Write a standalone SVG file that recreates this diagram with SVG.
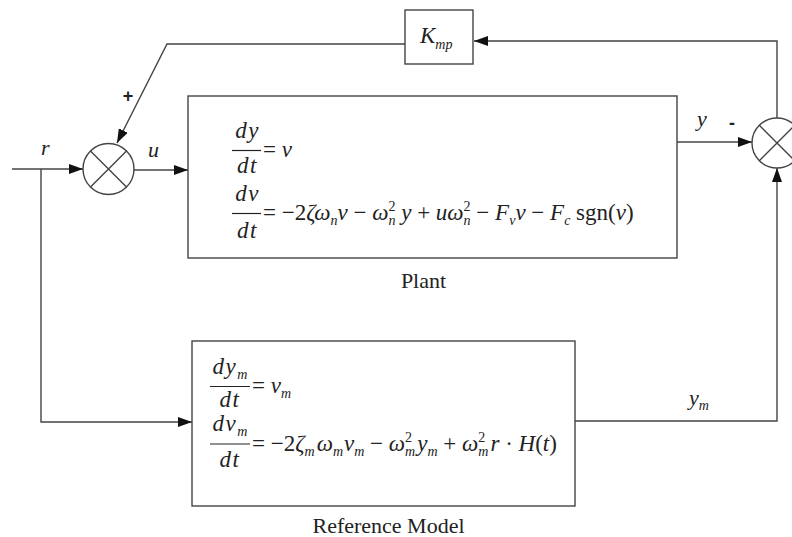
<svg xmlns="http://www.w3.org/2000/svg" width="792" height="537" viewBox="0 0 792 537">
<style>
.ln{stroke:#444;stroke-width:1.4;fill:none}
.bx{stroke:#444;stroke-width:1.4;fill:#fff}
.t{font-family:"Liberation Serif","Times New Roman",serif;font-size:22px;fill:#222}
.e{font-size:23px}
.f{font-size:23px;letter-spacing:1.5px}
.i{font-style:italic}
.s{font-size:14px;letter-spacing:0}
.sg{font-family:"Liberation Sans",Arial,sans-serif;font-weight:bold;font-size:18px;fill:#222}
.bar{stroke:#222;stroke-width:1.2}
</style>
<defs>
<marker id="ah" markerUnits="userSpaceOnUse" markerWidth="15" markerHeight="11" refX="14" refY="5" orient="auto">
<path d="M0,0 L14,5 L0,10 z" fill="#111"/>
</marker>
</defs>
<rect width="792" height="537" fill="#fff"/>

<g id="connectors">
<path class="ln" d="M12,169 L83,169" marker-end="url(#ah)"/>
<path class="ln" d="M41,169 L41,422 L192,422" marker-end="url(#ah)"/>
<path class="ln" d="M134,170 L188,170" marker-end="url(#ah)"/>
<path class="ln" d="M405,44 L167,44 L117,143" marker-end="url(#ah)"/>
<path class="ln" d="M677,142 L752,142" marker-end="url(#ah)"/>
<path class="ln" d="M777,118 L777,41 L474,41" marker-end="url(#ah)"/>
<path class="ln" d="M575,421 L777,421 L777,168" marker-end="url(#ah)"/>
</g>

<g id="sum1">
<circle class="bx" cx="108.5" cy="169" r="25.5"/>
<path class="ln" d="M90.5,151 L126.5,187 M126.5,151 L90.5,187"/>
</g>

<g id="sum2">
<circle class="bx" cx="777" cy="143" r="25"/>
<path class="ln" d="M759.3,125.3 L794.7,160.7 M794.7,125.3 L759.3,160.7"/>
</g>

<g id="kmp">
<rect class="bx" x="405" y="10" width="68" height="54"/>
<text class="t e i" x="420" y="43">K<tspan class="s" dy="6">mp</tspan></text>
</g>

<g id="plant">
<rect class="bx" x="188" y="96" width="489" height="162"/>
<text class="t f i" x="247.5" y="138" text-anchor="middle">dy</text>
<line class="bar" x1="232" y1="150.5" x2="261" y2="150.5"/>
<text class="t f i" x="247.5" y="173" text-anchor="middle">dt</text>
<text class="t e" x="263" y="157">= <tspan class="i">v</tspan></text>
<text class="t f i" x="247.5" y="201" text-anchor="middle">dv</text>
<line class="bar" x1="232" y1="213.5" x2="261" y2="213.5"/>
<text class="t f i" x="247.5" y="238" text-anchor="middle">dt</text>
<text class="t e" x="263" y="220">= −2<tspan class="i">ζω</tspan><tspan class="s i" dy="5">n</tspan><tspan class="i" dy="-5">v</tspan> − <tspan class="i">ω</tspan><tspan class="s" dy="-9">2</tspan><tspan class="s i" dx="-7" dy="14">n</tspan><tspan class="i" dy="-5"> y</tspan> + <tspan class="i">uω</tspan><tspan class="s" dy="-9">2</tspan><tspan class="s i" dx="-7" dy="14">n</tspan><tspan dy="-5"> − </tspan><tspan class="i">F</tspan><tspan class="s i" dy="5">v</tspan><tspan class="i" dy="-5">v</tspan> − <tspan class="i">F</tspan><tspan class="s i" dy="5">c</tspan><tspan dy="-5"> sgn(</tspan><tspan class="i">v</tspan>)</text>
<text class="t" x="423.5" y="288" text-anchor="middle">Plant</text>
</g>

<g id="reference-model">
<rect class="bx" x="192" y="341" width="383" height="165"/>
<text class="t f i" x="230" y="374" text-anchor="middle">dy<tspan class="s" dy="5">m</tspan></text>
<line class="bar" x1="210" y1="386.5" x2="250" y2="386.5"/>
<text class="t f i" x="230" y="407" text-anchor="middle">dt</text>
<text class="t e" x="252" y="393">= <tspan class="i">v</tspan><tspan class="s i" dy="5">m</tspan></text>
<text class="t f i" x="230" y="431" text-anchor="middle">dv<tspan class="s" dy="5">m</tspan></text>
<line class="bar" x1="210" y1="444" x2="250" y2="444"/>
<text class="t f i" x="230" y="467" text-anchor="middle">dt</text>
<text class="t e" x="252" y="450.5">= −2<tspan class="i">ζ</tspan><tspan class="s i" dy="5">m</tspan><tspan class="i" dy="-5" dx="2">ω</tspan><tspan class="s i" dy="5">m</tspan><tspan class="i" dy="-5" dx="1">v</tspan><tspan class="s i" dy="5">m</tspan><tspan dy="-5"> − </tspan><tspan class="i">ω</tspan><tspan class="s" dy="-9">2</tspan><tspan class="s i" dx="-7" dy="14">m</tspan><tspan class="i" dy="-5" dx="2">y</tspan><tspan class="s i" dy="5">m</tspan><tspan dy="-5"> + </tspan><tspan class="i">ω</tspan><tspan class="s" dy="-9">2</tspan><tspan class="s i" dx="-7" dy="14">m</tspan><tspan class="i" dy="-5" dx="2">r</tspan> · <tspan class="i">H</tspan>(<tspan class="i">t</tspan>)</text>
<text class="t" x="388.5" y="533" text-anchor="middle">Reference Model</text>
</g>

<g id="labels">
<text class="t i" x="41" y="155">r</text>
<text class="t i" x="148" y="157">u</text>
<text class="sg" x="128" y="102" text-anchor="middle">+</text>
<text class="t i" x="697" y="126">y</text>
<text class="sg" x="732" y="129" text-anchor="middle">-</text>
<text class="t i" x="689" y="405">y<tspan class="s" dy="5">m</tspan></text>
</g>
</svg>
